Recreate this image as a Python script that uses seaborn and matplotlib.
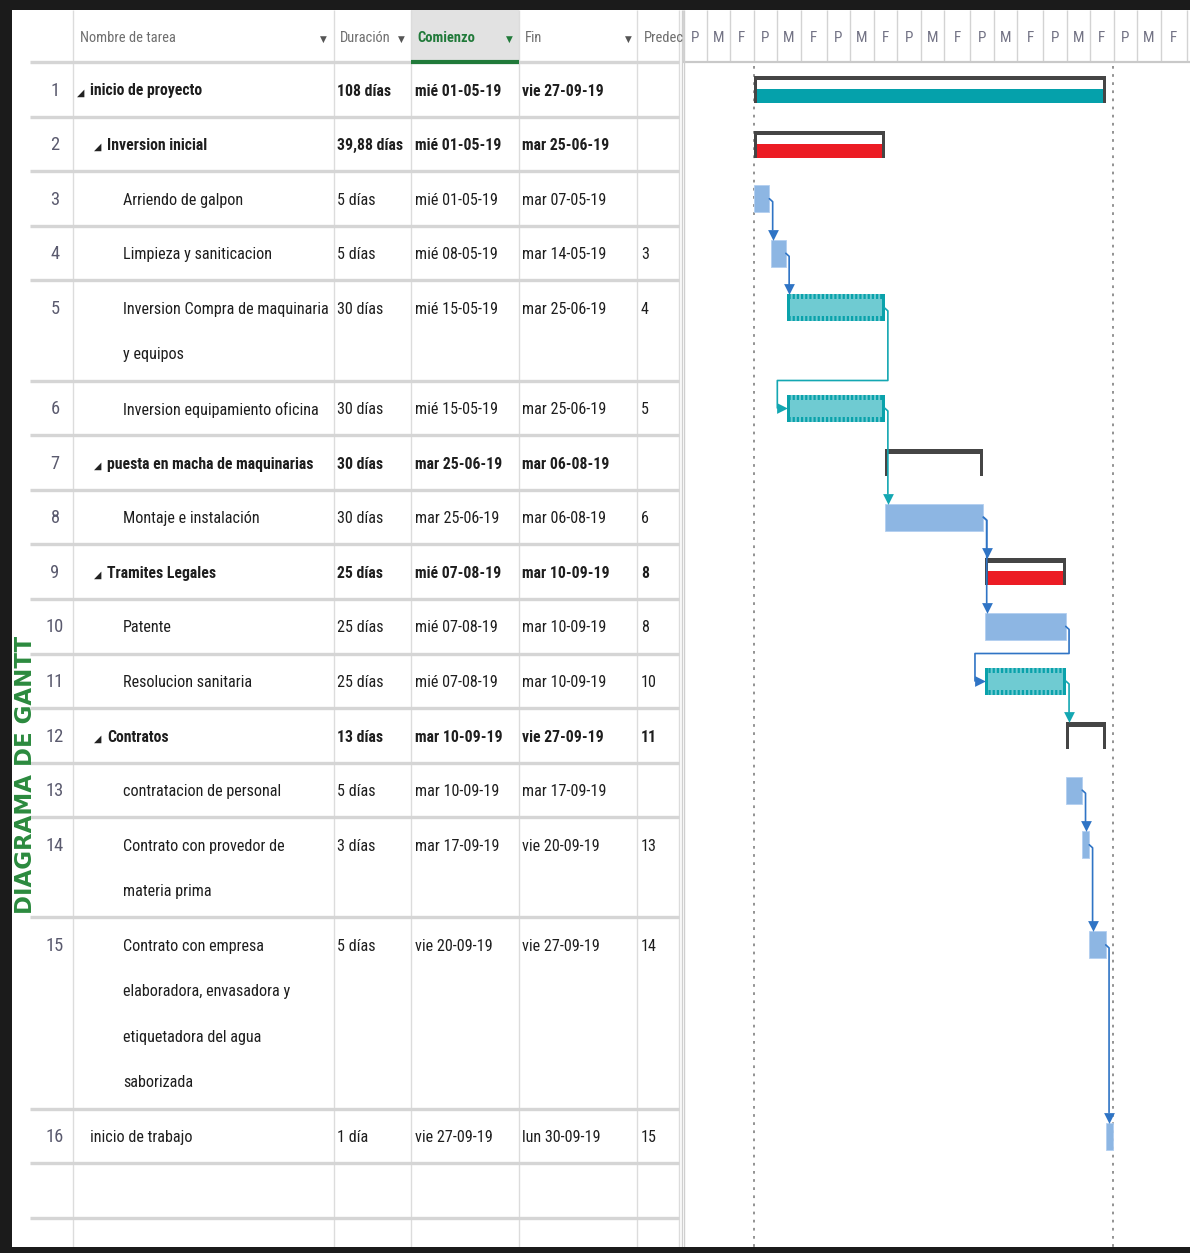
import numpy as np
import pandas as pd
import matplotlib
matplotlib.use("Agg")
import matplotlib.pyplot as plt
import matplotlib.dates as mdates
from matplotlib import font_manager as fm
from matplotlib.patches import Rectangle
import seaborn as sns

# ---------------- data ----------------
task_names = [
    "inicio de proyecto",
    "Inversion inicial",
    "Arriendo de galpon",
    "Limpieza y saniticacion",
    "Inversion Compra de maquinaria\ny equipos",
    "Inversion equipamiento oficina",
    "puesta en macha de maquinarias",
    "Montaje e instalación",
    "Tramites Legales",
    "Patente",
    "Resolucion sanitaria",
    "Contratos",
    "contratacion de personal",
    "Contrato con provedor de\nmateria prima",
    "Contrato con empresa\nelaboradora, envasadora y\netiquetadora del agua\nsaborizada",
    "inicio de trabajo",
]
levels = [0, 1, 2, 2, 2, 2, 1, 2, 1, 2, 2, 1, 2, 2, 2, 0]
kinds = ["summary", "summary", "task", "task", "hatched", "hatched", "summary", "task",
         "summary", "task", "hatched", "summary", "task", "task", "task", "task"]
durations = ["108 días", "39,88 días", "5 días", "5 días", "30 días", "30 días", "30 días",
             "30 días", "25 días", "25 días", "25 días", "13 días", "5 días", "3 días",
             "5 días", "1 día"]
start_labels = ["mié 01-05-19", "mié 01-05-19", "mié 01-05-19", "mié 08-05-19", "mié 15-05-19",
                "mié 15-05-19", "mar 25-06-19", "mar 25-06-19", "mié 07-08-19", "mié 07-08-19",
                "mié 07-08-19", "mar 10-09-19", "mar 10-09-19", "mar 17-09-19", "vie 20-09-19",
                "vie 27-09-19"]
end_labels = ["vie 27-09-19", "mar 25-06-19", "mar 07-05-19", "mar 14-05-19", "mar 25-06-19",
              "mar 25-06-19", "mar 06-08-19", "mar 06-08-19", "mar 10-09-19", "mar 10-09-19",
              "mar 10-09-19", "vie 27-09-19", "mar 17-09-19", "vie 20-09-19", "vie 27-09-19",
              "lun 30-09-19"]
predecessors = ["", "", "", "3", "4", "5", "", "6", "8", "8", "10", "11", "", "13", "14", "15"]
starts = ["2019-05-01 08:00", "2019-05-01 08:00", "2019-05-01 08:00", "2019-05-08 08:00",
          "2019-05-15 08:00", "2019-05-15 08:00", "2019-06-25 16:00", "2019-06-25 16:00",
          "2019-08-07 08:00", "2019-08-07 08:00", "2019-08-07 08:00", "2019-09-10 16:00",
          "2019-09-10 16:00", "2019-09-17 16:00", "2019-09-20 16:00", "2019-09-27 16:00"]
ends = ["2019-09-27 16:00", "2019-06-25 16:00", "2019-05-07 17:00", "2019-05-14 17:00",
        "2019-06-25 16:00", "2019-06-25 16:00", "2019-08-06 16:00", "2019-08-06 16:00",
        "2019-09-10 16:00", "2019-09-10 16:00", "2019-09-10 16:00", "2019-09-27 16:00",
        "2019-09-17 16:00", "2019-09-20 16:00", "2019-09-27 16:00", "2019-09-30 16:00"]
summary_fill = ["#05a1ab", "#ec1c24", None, None, None, None, None, None,
                "#ec1c24", None, None, None, None, None, None, None]
headers = ["Nombre de tarea", "Duración", "Comienzo", "Fin", "Predec"]
scale_letters = ["P", "M", "F"]
title = "DIAGRAMA DE GANTT"

# ---------------- style ----------------
sns.set_theme(style="white")
installed = {f.name for f in fm.fontManager.ttflist}
body_font = next((f for f in ["Liberation Sans Narrow", "Roboto Condensed", "Open Sans Condensed",
                              "Liberation Sans", "DejaVu Sans"] if f in installed), "DejaVu Sans")
plt.rcParams["font.family"] = [body_font, "DejaVu Sans"]
plt.rcParams["hatch.linewidth"] = 1.6

W, H = 1190, 1253
fig = plt.figure(figsize=(W / 100, H / 100), dpi=100)
fig.patch.set_facecolor("white")
renderer = fig.canvas.get_renderer()


def text_width(s, size, **kw):
    t = fig.text(0, 0, s, fontsize=size, **kw)
    w = t.get_window_extent(renderer).width
    t.remove()
    return w


fs = min(20, 10 * 205 / text_width("Inversion Compra de maquinaria", 10))
fs_bold = min(20, 10 * 207 / text_width("puesta en macha de maquinarias", 10, weight="bold"))
title_fs = min(16.5, 10 * 330 / text_width(title, 10, weight="bold", family=["DejaVu Sans"]))

# layout (pixels)
SPLIT = 683
col_lines = [73, 334, 411, 519, 637, 679]
name_x = [90, 107, 123]
val_x = [337, 415, 522, 641]
head_top, head_bot = 10, 62
line_h, first_line, row_pad = 45.5, 27.5, 9.1
bar_h = 27
px_per_day = 2.353
d = 1 / px_per_day

n_lines = [s.count("\n") + 1 for s in task_names]
row_h = np.array([row_pad + line_h * k for k in n_lines])
row_top = head_bot + np.concatenate([[0], np.cumsum(row_h)[:-1]])
row_bot = row_top + row_h
extra = row_bot[-1] + (row_pad + line_h) * np.arange(1, 3)
boundaries = np.concatenate([[head_bot], row_bot, extra])

ax_t = fig.add_axes([0, 0, SPLIT / W, 1])
ax_g = fig.add_axes([SPLIT / W, 0, 1 - SPLIT / W, 1])
g_left = mdates.date2num(pd.Timestamp("2019-04-01"))

text_col = "#1e1e1e"
grey_txt = "#6e6e6e"
green = "#217a3a"
fam = [body_font, "DejaVu Sans"]

# ---------------- table ----------------
ax_t.add_patch(Rectangle((col_lines[2], head_top), col_lines[3] - col_lines[2], head_bot - head_top,
                         color="#e2e2e2", lw=0, zorder=0))
ax_t.vlines(col_lines, head_top, H, color="#dcdcdc", lw=1, zorder=1)
ax_t.vlines(SPLIT - 1, head_top, H, color="#cfcfcf", lw=1, zorder=1)
ax_t.hlines(boundaries, 30, col_lines[-1], color="#d5d5d5", lw=2.4, zorder=1)
ax_t.hlines(head_bot, col_lines[2], col_lines[3], color=green, lw=3, zorder=2)

head_y = 36
head_x = [80, 340, 417, 525, 644]
arrow_x = [323, 401, 509, 628]
for k, (hx, h) in enumerate(zip(head_x, headers)):
    ax_t.text(hx, head_y, h, ha="left", va="center_baseline", fontsize=fs * 0.9,
              color=green if k == 2 else grey_txt, weight="bold" if k == 2 else "normal",
              family=fam, clip_on=True)
for k, ax_x in enumerate(arrow_x):
    ax_t.text(ax_x, head_y + 3, "▼", ha="center", va="center", fontsize=fs * 0.55,
              color=green if k == 2 else "#555555", family=["DejaVu Sans"])

for i, name in enumerate(task_names):
    y0 = row_top[i] + first_line
    is_sum = kinds[i] == "summary"
    wt = "bold" if is_sum else "normal"
    size = fs_bold if is_sum else fs
    ax_t.text(55, y0 - 1, str(i + 1), ha="center", va="center_baseline", fontsize=fs * 1.15,
              color="#5a5a6e", family=fam)
    x0 = name_x[levels[i]]
    if is_sum:
        ax_t.text(x0 - 6, y0 + 3, "◢", ha="right", va="center", fontsize=fs * 0.6,
                  color="#222222", family=["DejaVu Sans"])
    for j, line in enumerate(name.split("\n")):
        ax_t.text(x0, y0 + j * line_h, line, ha="left", va="center_baseline", fontsize=size,
                  color=text_col, weight=wt, family=fam)
    for vx, val in zip(val_x, [durations[i], start_labels[i], end_labels[i], predecessors[i]]):
        ax_t.text(vx, y0, val, ha="left", va="center_baseline", fontsize=size,
                  color=text_col, weight=wt, family=fam)

ax_t.text(26, 775, title, rotation=90, ha="center", va="center", fontsize=title_fs,
          color="#2b8a3e", weight="bold", family=["DejaVu Sans"])

# ---------------- gantt ----------------
months = pd.date_range("2019-04-01", "2019-11-01", freq="MS")
thirds = [mdates.date2num(m + pd.Timedelta(days=k)) for m in months for k in (0, 10, 20)]
ax_g.vlines(thirds, head_top, head_bot, color="#d3d3d3", lw=1)
ax_g.hlines(head_bot, g_left, g_left + (W - SPLIT) * d, color="#c9c9c9", lw=1.6)
ax_g.vlines(g_left + 0.6 * d, head_top, H, color="#cfcfcf", lw=1)
for k in range(len(thirds) - 1):
    if thirds[k] >= mdates.date2num(months[-1]):
        break
    ax_g.text((thirds[k] + thirds[k + 1]) / 2, head_y, scale_letters[k % 3], ha="center",
              va="center_baseline", fontsize=fs * 0.95, color="#737385", family=fam)

s_num = np.array([mdates.date2num(pd.Timestamp(s)) for s in starts])
e_num = np.array([mdates.date2num(pd.Timestamp(e)) for e in ends])
yc = row_top + first_line

blue = "#8db6e3"
teal_light, teal_dark = "#6fcbd2", "#0aa2ab"
sum_grey = "#454545"
for i, kind in enumerate(kinds):
    s, e, y = s_num[i], e_num[i], yc[i]
    if kind == "task":
        ax_g.barh(y, e - s, left=s, height=bar_h, color=blue, edgecolor="#b3cff0", lw=0.6, zorder=3)
    elif kind == "hatched":
        ax_g.barh(y, e - s, left=s, height=bar_h, color=teal_light, lw=0, zorder=3)
        for sign in (-1, 1):
            ax_g.barh(y + sign * (bar_h / 2 - 2.5), e - s, left=s, height=5, facecolor=teal_light,
                      edgecolor=teal_dark, hatch="||||", lw=0, zorder=4)
        ax_g.barh(y, 3 * d, left=s, height=bar_h, color=teal_dark, lw=0, zorder=4)
        ax_g.barh(y, 3 * d, left=e - 3 * d, height=bar_h, color=teal_dark, lw=0, zorder=4)
    else:
        if summary_fill[i]:
            ax_g.barh(y + bar_h / 2 - 7, e - s, left=s, height=14, color=summary_fill[i],
                      lw=0, zorder=3)
        ax_g.barh(y - bar_h / 2 + 2.2, e - s, left=s, height=4.4, color=sum_grey, lw=0, zorder=4)
        ax_g.barh(y, 3 * d, left=s, height=bar_h, color=sum_grey, lw=0, zorder=4)
        ax_g.barh(y, 3 * d, left=e - 3 * d, height=bar_h, color=sum_grey, lw=0, zorder=4)

# project start / finish markers
ax_g.vlines([s_num.min(), e_num.max()], head_bot + 4, H, color="#8a8a8a", lw=1.3,
            linestyles=(0, (1.5, 3)), zorder=2)

# dependency links
blue_line, teal_line = "#2f74c5", "#14a7b2"
ah = 10
arrows = []
for i, p in enumerate(predecessors):
    if not p:
        continue
    j = int(p) - 1
    col = teal_line if kinds[j] == "hatched" else blue_line
    xe, ye = e_num[j], yc[j]
    xs, yt = s_num[i], yc[i]
    xd = xe + 3.3 * d
    if xs < xe - 0.5:
        yb = row_bot[j]
        xb = xs - 10 * d
        px = [xe, xd, xd, xb, xb, xs - ah * d]
        py = [ye, ye + 3, yb, yb, yt, yt]
        arrows.append((xs - ah / 2 * d, yt, ">", col))
    else:
        top = yt - bar_h / 2
        px = [xe, xd, xd]
        py = [ye, ye + 3, top - ah]
        arrows.append((xd, top - ah / 2, "v", col))
    ax_g.plot(px, py, color=col, lw=1.2, zorder=5, solid_joinstyle="round")

arrow_df = pd.DataFrame(arrows, columns=["x", "y", "marker", "color"])
for (m, c), g in arrow_df.groupby(["marker", "color"]):
    sns.scatterplot(data=g, x="x", y="y", marker=m, color=c, s=60, linewidth=0,
                    ax=ax_g, zorder=6, legend=False)

for ax in (ax_t, ax_g):
    ax.set_ylim(H, 0)
    ax.axis("off")
ax_t.set_xlim(0, SPLIT)
ax_g.set_xlim(g_left, g_left + (W - SPLIT) * d)

# screenshot frame
for x, y, w, h in [(0, H - 10, W, 10), (0, 0, 12, H), (0, 0, W, 6)]:
    fig.add_artist(Rectangle((x / W, y / H), w / W, h / H, transform=fig.transFigure,
                             color="#1b1b1b", lw=0, zorder=20))

fig.savefig("out.png", dpi=100, facecolor="white")
